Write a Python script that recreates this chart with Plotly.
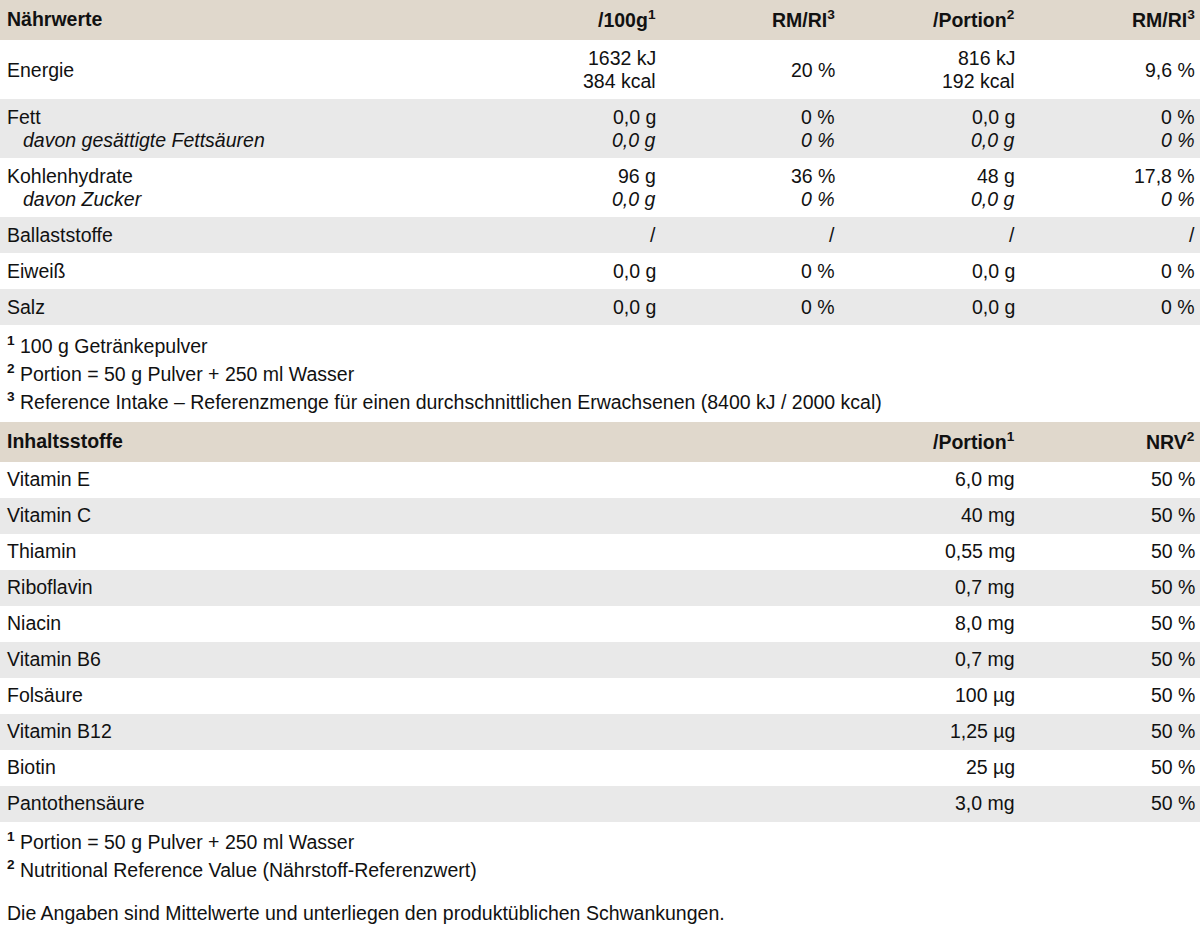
import plotly.graph_objects as go

# Nährwerte table
naehr_header = ["Nährwerte", "/100g<sup>1</sup>", "RM/RI<sup>3</sup>", "/Portion<sup>2</sup>", "RM/RI<sup>3</sup>"]
naehr_names = [["Energie"], ["Fett", "davon gesättigte Fettsäuren"], ["Kohlenhydrate", "davon Zucker"],
               ["Ballaststoffe"], ["Eiweiß"], ["Salz"]]
per_100g = [["1632 kJ", "384 kcal"], ["0,0 g", "0,0 g"], ["96 g", "0,0 g"], ["/"], ["0,0 g"], ["0,0 g"]]
ri_100g = [["20 %"], ["0 %", "0 %"], ["36 %", "0 %"], ["/"], ["0 %"], ["0 %"]]
per_portion = [["816 kJ", "192 kcal"], ["0,0 g", "0,0 g"], ["48 g", "0,0 g"], ["/"], ["0,0 g"], ["0,0 g"]]
ri_portion = [["9,6 %"], ["0 %", "0 %"], ["17,8 %", "0 %"], ["/"], ["0 %"], ["0 %"]]
naehr_notes = ["<sup><b>1</b></sup> 100 g Getränkepulver",
               "<sup><b>2</b></sup> Portion = 50 g Pulver + 250 ml Wasser",
               "<sup><b>3</b></sup> Reference Intake – Referenzmenge für einen durchschnittlichen Erwachsenen (8400 kJ / 2000 kcal)"]

# Inhaltsstoffe table
inhalt_header = ["Inhaltsstoffe", "/Portion<sup>1</sup>", "NRV<sup>2</sup>"]
inhalt_names = ["Vitamin E", "Vitamin C", "Thiamin", "Riboflavin", "Niacin", "Vitamin B6",
                "Folsäure", "Vitamin B12", "Biotin", "Pantothensäure"]
inhalt_portion = ["6,0 mg", "40 mg", "0,55 mg", "0,7 mg", "8,0 mg", "0,7 mg", "100 µg", "1,25 µg", "25 µg", "3,0 mg"]
inhalt_nrv = ["50 %"] * 10
inhalt_notes = ["<sup><b>1</b></sup> Portion = 50 g Pulver + 250 ml Wasser",
                "<sup><b>2</b></sup> Nutritional Reference Value (Nährstoff-Referenzwert)"]
final_note = "Die Angaben sind Mittelwerte und unterliegen den produktüblichen Schwankungen."

W, H = 1200, 933
BEIGE, GRAY = "#e0d8cc", "#e9e9e9"
FONT = dict(family="Liberation Sans, Arial, sans-serif", size=19.5, color="#111")
LINE = 23

shapes, annots = [], []


def band(y0, y1, color):
    shapes.append(dict(type="rect", x0=0, x1=W, y0=y0, y1=y1, fillcolor=color, line_width=0, layer="below"))


def text(x, y, s, anchor="left", italic=False):
    if italic:
        s = f"<i>{s}</i>"
    annots.append(dict(x=x, y=y, text=s, showarrow=False, xanchor=anchor, yanchor="middle",
                       font=FONT, xshift=-2 if anchor == "left" else 2))


def cell_lines(x, yc, lines, anchor, sub):
    n = len(lines)
    for i, s in enumerate(lines):
        yy = yc + (i - (n - 1) / 2) * LINE
        xx = x + (16 if (sub and i > 0 and anchor == "left") else 0)
        text(xx, yy, s, anchor, italic=(sub and i > 0))


cols1 = [656, 835, 1015, 1195]
y = 0
band(y, y + 40, BEIGE)
text(7, y + 19, f"<b>{naehr_header[0]}</b>")
for x, h in zip(cols1, naehr_header[1:]):
    text(x, y + 19, f"<b>{h}</b>", "right")
y += 40
for i, name in enumerate(naehr_names):
    nl = max(len(name), len(per_100g[i]))
    h = 36 if nl == 1 else 59
    if i % 2 == 1:
        band(y, y + h, GRAY)
    sub = len(name) > 1
    yc = y + h / 2
    cell_lines(7, yc, name, "left", sub)
    for x, col in zip(cols1, [per_100g, ri_100g, per_portion, ri_portion]):
        cell_lines(x, yc, col[i], "right", sub)
    y += h

y += 20
for s in naehr_notes:
    text(7, y, s)
    y += 28

y = 422
band(y, y + 40, BEIGE)
text(7, y + 19, f"<b>{inhalt_header[0]}</b>")
for x, h in zip([1015, 1195], inhalt_header[1:]):
    text(x, y + 19, f"<b>{h}</b>", "right")
y += 40
for i, name in enumerate(inhalt_names):
    if i % 2 == 1:
        band(y, y + 36, GRAY)
    text(7, y + 17, name)
    text(1015, y + 17, inhalt_portion[i], "right")
    text(1195, y + 17, inhalt_nrv[i], "right")
    y += 36

y += 19
for s in inhalt_notes:
    text(7, y, s)
    y += 28
text(7, 913, final_note)

fig = go.Figure()
fig.update_layout(
    width=W, height=H, margin=dict(l=0, r=0, t=0, b=0),
    paper_bgcolor="white", plot_bgcolor="white",
    xaxis=dict(range=[0, W], visible=False, fixedrange=True),
    yaxis=dict(range=[H, 0], visible=False, fixedrange=True),
    shapes=shapes, annotations=annots, showlegend=False,
)
fig.write_html("out.html", config={"displayModeBar": False},
               post_script="document.body.style.margin='0';document.body.style.overflow='hidden';")
